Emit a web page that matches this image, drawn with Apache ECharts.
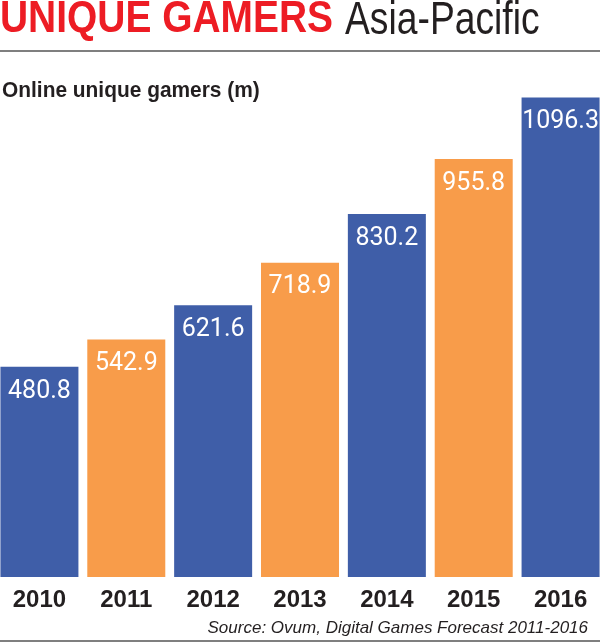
<!DOCTYPE html>
<html>
<head>
<meta charset="utf-8">
<script src="https://cdn.jsdelivr.net/npm/echarts@6/dist/echarts.min.js"></script>
<style>
  html, body { margin: 0; padding: 0; background: #fff; overflow: hidden; }
  /* canvas um pouco mais largo para as barras encostarem nas bordas */
  #chart { width: 608px; height: 643px; margin-left: -4px; }
</style>
</head>
<body>
<div id="chart"></div>
<script>
// Online unique gamers, Asia-Pacific (millions)
const years = ['2010', '2011', '2012', '2013', '2014', '2015', '2016'];
const gamers = [480.8, 542.9, 621.6, 718.9, 830.2, 955.8, 1096.3];

const azul = '#3f5ea8';
const laranja = '#f89c4a';
const off = 4; // deslocamento do canvas

const chart = echarts.init(document.getElementById('chart'));

const option = {
    animation: false,
    backgroundColor: '#fff',
    grid: {
        left: 0,
        right: 0,
        top: 96,
        bottom: 66
    },
    xAxis: {
        type: 'category',
        data: years,
        axisLine: { show: false },
        axisTick: { show: false },
        axisLabel: {
            margin: 11,
            fontSize: 24,
            fontWeight: 'bold',
            fontFamily: 'Liberation Sans',
            color: '#231f20'
        }
    },
    yAxis: {
        type: 'value',
        min: 0,
        max: 1100,
        show: false,
        splitLine: { show: false }
    },
    series: [
        {
            type: 'bar',
            data: gamers,
            barWidth: 78,
            itemStyle: {
                // alterna azul / laranja
                color: function(p) {
                    return p.dataIndex % 2 === 0 ? azul : laranja;
                }
            },
            label: {
                show: true,
                position: 'insideTop',
                distance: 12,
                fontSize: 25,
                fontFamily: 'Roboto',
                color: '#fff',
                formatter: function(p) {
                    return p.value.toFixed(1);
                }
            }
        }
    ],
    graphic: [
        {
            type: 'text',
            x: off, y: 20,
            scaleX: 0.865,
            style: {
                text: 'UNIQUE GAMERS',
                fontSize: 45,
                fontWeight: 'bold',
                fontFamily: 'Liberation Sans',
                fill: '#ed1c24',
                verticalAlign: 'middle'
            }
        },
        {
            type: 'text',
            x: off + 345, y: 21.5,
            scaleX: 0.81,
            style: {
                text: 'Asia-Pacific',
                fontSize: 46,
                fontFamily: 'Liberation Sans',
                fill: '#231f20',
                verticalAlign: 'middle'
            }
        },
        {
            type: 'line',
            shape: { x1: off, y1: 51, x2: off + 600, y2: 51 },
            style: { stroke: '#555', lineWidth: 1.5 }
        },
        {
            type: 'text',
            x: off + 2, y: 90.5,
            scaleX: 0.95,
            style: {
                text: 'Online unique gamers (m)',
                fontSize: 22,
                fontWeight: 'bold',
                fontFamily: 'Liberation Sans',
                fill: '#231f20',
                verticalAlign: 'middle'
            }
        },
        {
            type: 'text',
            x: off + 588, y: 628,
            style: {
                text: 'Source: Ovum, Digital Games Forecast 2011-2016',
                fontSize: 17,
                fontStyle: 'italic',
                fontFamily: 'Liberation Sans',
                fill: '#231f20',
                align: 'right',
                verticalAlign: 'middle'
            }
        },
        {
            type: 'line',
            shape: { x1: off, y1: 641, x2: off + 600, y2: 641 },
            style: { stroke: '#555', lineWidth: 1.5 }
        }
    ]
};

chart.setOption(option);

window.addEventListener('resize', function() {
    chart.resize();
});
</script>
</body>
</html>
